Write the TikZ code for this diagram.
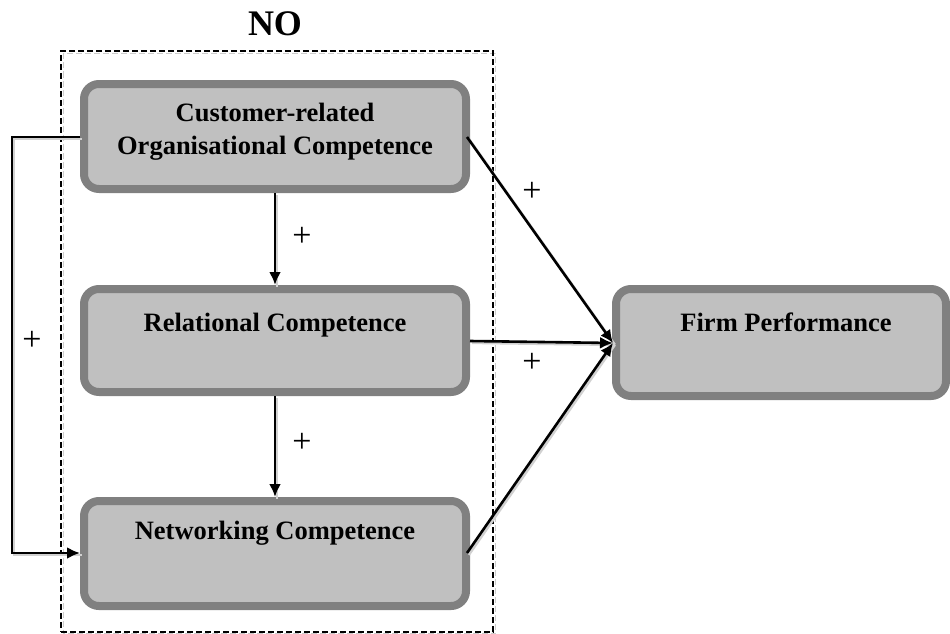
\documentclass[tikz,border=0pt]{standalone}
\usepackage{fontspec}
\setmainfont{Liberation Serif}
\usetikzlibrary{shadows,arrows.meta}
\definecolor{boxfill}{HTML}{C0C0C0}
\definecolor{boxedge}{HTML}{808080}
\begin{document}
\begin{tikzpicture}[x=1pt,y=-1pt,
  compbox/.style={draw=boxedge, fill=boxfill, line width=8pt, rounded corners=15pt,
    minimum width=382pt, inner sep=0pt,
    drop shadow={shadow xshift=2.5pt, shadow yshift=-2.5pt, fill=black!18, opacity=1}},
  lbl/.style={font=\fontsize{26.5}{33}\selectfont\bfseries, align=center, inner sep=0pt},
  plus/.style={font=\fontsize{34}{34}\selectfont, inner sep=0pt},
  conn/.style={line width=2.6pt, -{Latex[length=13pt,width=12pt]},
    preaction={draw=black!18, line width=2.6pt, -, transform canvas={shift={(1.8pt,-1.8pt)}}}}
]
\useasboundingbox (0,0) rectangle (950,634);

% dashed group box
\draw[black!20, line width=1.6pt, dash pattern=on 6pt off 3pt] (63.5,53.5) rectangle (495.5,634);
\node[draw=black, line width=1.6pt, dash pattern=on 6pt off 3pt, minimum width=432pt, minimum height=581pt, inner sep=0pt, outer sep=0pt] (grp) at (277,341.5) {};
\node[font=\fontsize{36}{36}\selectfont\bfseries, inner sep=0pt] (no) at (275,24) {NO};

% boxes
\node[compbox, minimum height=105pt] (c1) at (275,136.5) {};
\node[compbox, minimum height=103pt] (c2) at (275,340.5) {};
\node[compbox, minimum height=105pt] (c3) at (275,553.5) {};
\node[compbox, minimum width=330pt, minimum height=107pt] (fp) at (781,342.5) {};

\node[lbl] (t1) at (275,131.5) {Customer-related\\Organisational Competence};
\node[lbl] (t2) at (275,325) {Relational Competence};
\node[lbl] (t3) at (275,533) {Networking Competence};
\node[lbl] (t4) at (786,322) {Firm Performance};

% connectors
\coordinate (lt) at (12,137);
\coordinate (lb) at (12,553);
\draw[conn] (c1.west |- 0,137) -- (lt) -- (lb) -- (c3.west |- 0,553);
\draw[conn] (c1.south) -- (c2.north);
\draw[conn] (c2.south) -- (c3.north);
\coordinate (tip) at (613,343);
\draw[conn] (467,137) -- (tip);
\draw[conn] (c2.east |- 0,341) -- (tip);
\draw[conn] (467,553) -- (tip);

% plus labels
\node[plus] (p1) at (302,237) {+};
\node[plus] (p2) at (302,443) {+};
\node[plus] (p3) at (32,341) {+};
\node[plus] (p4) at (532,192) {+};
\node[plus] (p5) at (532,363) {+};
\end{tikzpicture}
\end{document}
